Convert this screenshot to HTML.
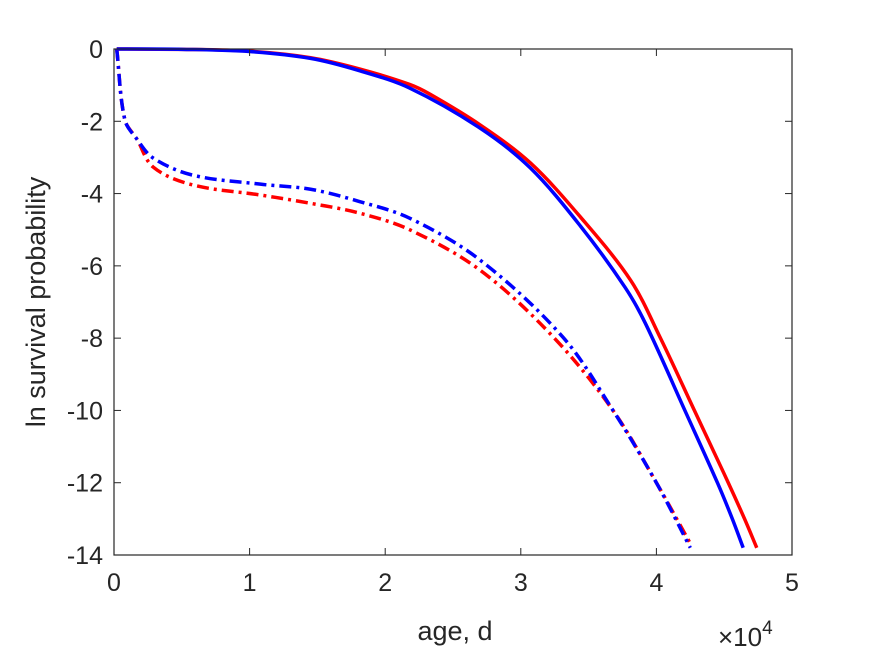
<!DOCTYPE html>
<html><head><meta charset="utf-8"><style>
body{margin:0;background:#fff;}
svg text{font-family:"Liberation Sans",Arial,sans-serif;fill:#262626;}
</style></head><body>
<svg id="chart" width="875" height="656" xmlns="http://www.w3.org/2000/svg" style="position:absolute;left:0;top:0">
<rect x="0" y="0" width="875" height="656" fill="#fff"/>
<g id="marks"></g>
<g id="axes"></g>
<text x="455" y="640" font-size="27" text-anchor="middle">age, d</text>
<text transform="translate(45,302) rotate(-90)" font-size="27" text-anchor="middle">ln survival probability</text>
<text x="718" y="646" font-size="26">×10<tspan font-size="19" dy="-12">4</tspan></text>
</svg>
<script>
const xTicks=[0,1,2,3,4,5];
const yTicks=[0,-2,-4,-6,-8,-10,-12,-14];
const redSolidX=[0.02,0.5,1,1.45,1.81,2.18,2.33,2.70,3.07,3.44,3.81,4.03,4.28,4.53,4.65,4.74];
const redSolidY=[0,-0.01,-0.06,-0.24,-0.55,-0.98,-1.25,-2.10,-3.15,-4.65,-6.4,-8.0,-10.0,-12.0,-13.0,-13.8];
const blueSolidX=[0.02,0.5,1,1.45,1.81,2.18,2.70,3.07,3.44,3.77,3.92,4.21,4.45,4.56,4.64];
const blueSolidY=[0,-0.01,-0.07,-0.26,-0.6,-1.08,-2.19,-3.29,-4.9,-6.6,-7.6,-10.0,-12.0,-13.0,-13.8];
const redDashX=[0.02,0.08,0.17,0.29,0.58,1.08,1.45,1.81,2.18,2.70,3.24,3.68,4.0,4.26];
const redDashY=[0,-1.96,-2.5,-3.27,-3.76,-4.04,-4.27,-4.54,-5.0,-6.12,-7.97,-10.0,-12.0,-13.75];
const blueDashX=[0.02,0.08,0.17,0.29,0.58,1.08,1.45,1.81,2.18,2.70,3.31,3.68,4.0,4.25];
const blueDashY=[0,-1.96,-2.5,-3.02,-3.49,-3.74,-3.88,-4.22,-4.68,-5.84,-7.97,-10.0,-12.0,-13.8];

const L=114,R=792,T=49,B=555;
const xs=v=>L+(v-0)/5*(R-L);
const ys=v=>T+(0-v)/14*(B-T);
const NS="http://www.w3.org/2000/svg";
const marks=document.getElementById('marks'),axes=document.getElementById('axes');
function mk(tag,attrs,parent){const e=document.createElementNS(NS,tag);for(const k in attrs)e.setAttribute(k,attrs[k]);parent.appendChild(e);return e;}
function dist(a,b){return Math.hypot(a[0]-b[0],a[1]-b[1]);}
function smooth(X,Y){
  const p=X.map((x,i)=>[xs(x),ys(Y[i])]);
  const n=p.length;
  const tan=p.map((q,i)=>{
    const a=p[Math.max(0,i-1)],b=p[Math.min(n-1,i+1)];
    const d=dist(a,b)||1;
    return [(b[0]-a[0])/d,(b[1]-a[1])/d];
  });
  let d=`M${p[0][0]},${p[0][1]}`;
  for(let i=0;i<n-1;i++){
    const s=dist(p[i],p[i+1])/3;
    const c1=[p[i][0]+tan[i][0]*s,p[i][1]+tan[i][1]*s];
    const c2=[p[i+1][0]-tan[i+1][0]*s,p[i+1][1]-tan[i+1][1]*s];
    d+=` C${c1[0]},${c1[1]} ${c2[0]},${c2[1]} ${p[i+1][0]},${p[i+1][1]}`;
  }
  return d;
}
function series(X,Y,color,dash,name){
  const e=mk('path',{d:smooth(X,Y),fill:'none',stroke:color,'stroke-width':3.5},marks);
  if(dash)e.setAttribute('stroke-dasharray','12,5,3,5');
  
  
}
series(redDashX,redDashY,'#ff0000',true,'red-dashdot-line');
series(blueDashX,blueDashY,'#0000ff',true,'blue-dashdot-line');
series(redSolidX,redSolidY,'#ff0000',false,'red-solid-line');
series(blueSolidX,blueSolidY,'#0000ff',false,'blue-solid-line');

const box=mk('rect',{x:L,y:T,width:R-L,height:B-T,fill:'none',stroke:'#262626','stroke-width':1.2},axes);


xTicks.forEach(v=>{
  const x=xs(v);
  mk('line',{x1:x,x2:x,y1:B,y2:B-7,stroke:'#262626','stroke-width':1},axes);
  mk('line',{x1:x,x2:x,y1:T,y2:T+7,stroke:'#262626','stroke-width':1},axes);
  const t=mk('text',{x:x,y:591,'font-size':25,'text-anchor':'middle'},axes);
  t.textContent=v;
  
  
});
yTicks.forEach(v=>{
  const y=ys(v);
  mk('line',{x1:L,x2:L+7,y1:y,y2:y,stroke:'#262626','stroke-width':1},axes);
  mk('line',{x1:R,x2:R-7,y1:y,y2:y,stroke:'#262626','stroke-width':1},axes);
  const t=mk('text',{x:103,y:y+9,'font-size':25,'text-anchor':'end'},axes);
  t.textContent=v===0?'0':'-'+Math.abs(v);
  
  
});
</script>
</body></html>
